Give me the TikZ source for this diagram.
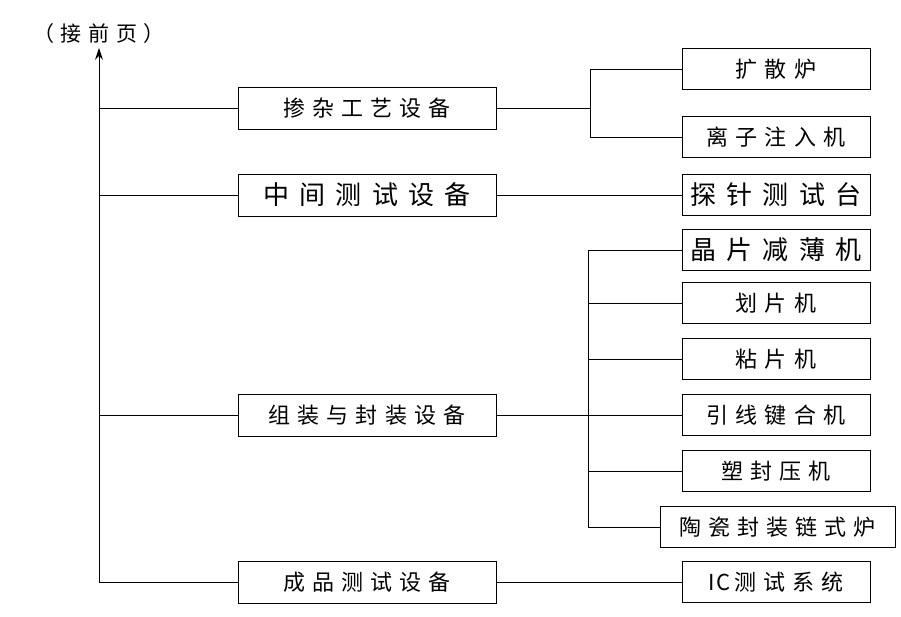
\documentclass[tikz,border=0pt]{standalone}
\usepackage{fontspec}
\usetikzlibrary{arrows.meta}
\newfontfamily\cjk[LetterSpace=32]{Noto Sans CJK SC}
\newfontfamily\cjkwide[LetterSpace=40]{Noto Sans CJK SC}

\begin{document}
\begin{tikzpicture}[x=1pt,y=-1pt,line width=1pt,
  lbox/.style={draw,minimum width=258pt,minimum height=42pt,inner sep=0pt,font=\cjk\fontsize{22}{22}\selectfont},
  rbox/.style={draw,minimum width=188pt,minimum height=41pt,inner sep=0pt,font=\cjk\fontsize{22}{22}\selectfont},
  big/.style={font=\cjkwide\fontsize{26}{26}\selectfont}]
\useasboundingbox (0,0) rectangle (901,616);
\node [font=\cjk\fontsize{21}{21}\selectfont] (prev) at (99,34) {（接前页）};
\coordinate (bus1) at (590,0);
\coordinate (bus2) at (588,0);
% left column
\node [lbox] (dop) at (367,108) {掺杂工艺设备};
\node [lbox,big] (mid) at (367,195) {中间测试设备};
\node [lbox] (pkg) at (367,415) {组装与封装设备};
\node [lbox] (fin) at (367,582) {成品测试设备};
% right column
\node [rbox] (diff) at (776,69) {扩散炉};
\node [rbox] (ion) at (776,137) {离子注入机};
\node [rbox,big] (probe) at (776,195) {探针测试台};
\node [rbox,big] (thin) at (776,250) {晶片减薄机};
\node [rbox] (dice) at (776,303) {划片机};
\node [rbox] (bond) at (776,359) {粘片机};
\node [rbox] (wire) at (776,415) {引线键合机};
\node [rbox] (mold) at (776,471) {塑封压机};
\node [rbox,minimum width=235pt] (kiln) at (777.5,527) {陶瓷封装链式炉};
\node [rbox] (ictest) at (776,582) {{\addfontfeature{LetterSpace=5}IC}\hspace{4pt}测试系统};
% trunk
\draw [-{Stealth[length=12pt,width=8pt]}] (fin.west) -| (prev.south);
\draw (dop.west) -- (dop.west -| prev.south);
\draw (mid.west) -- (mid.west -| prev.south);
\draw (pkg.west) -- (pkg.west -| prev.south);
% branches
\draw (dop.east) -- (dop.east -| bus1);
\draw (diff.west) -| (bus1 |- ion.west) -- (ion.west);
\draw (mid.east) -- (probe.west);
\draw (thin.west) -| (bus2 |- kiln.west) -- (kiln.west);
\draw (dice.west) -- (dice.west -| bus2);
\draw (bond.west) -- (bond.west -| bus2);
\draw (mold.west) -- (mold.west -| bus2);
\draw (pkg.east) -- (wire.west);
\draw (fin.east) -- (ictest.west);
\end{tikzpicture}
\end{document}
